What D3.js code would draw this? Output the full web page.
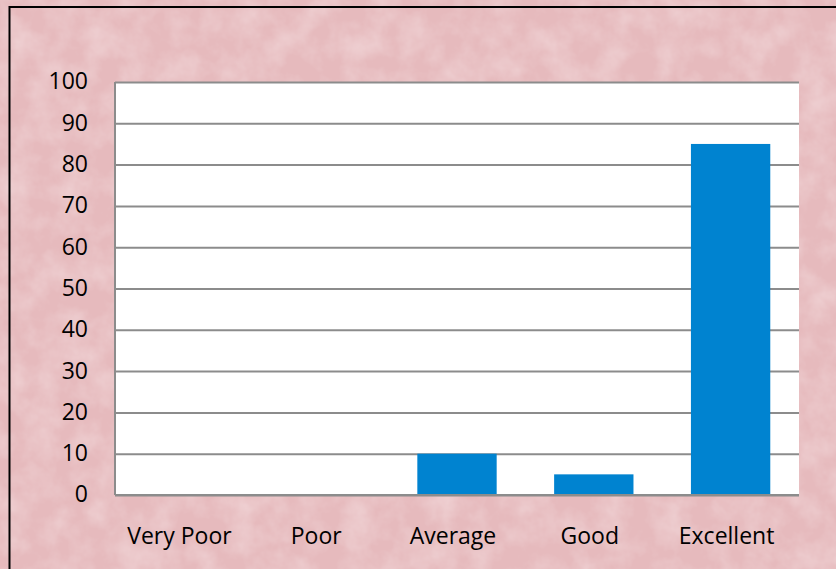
<!DOCTYPE html>
<html><head><meta charset="utf-8">
<script src="https://cdn.jsdelivr.net/npm/d3@7"></script>
<style>html,body{margin:0;padding:0;background:#fff;}svg{display:block;}</style>
</head><body>
<script>
const categories = ["Very Poor", "Poor", "Average", "Good", "Excellent"];
const values = [0, 0, 10, 5, 85];
const yTicks = [0, 10, 20, 30, 40, 50, 60, 70, 80, 90, 100];

const W = 836, H = 569;
const plot = {left: 115, right: 799, top: 82, bottom: 495};
const FONT = "'Open Sans', sans-serif";

const svg = d3.select("body").append("svg").attr("width", W).attr("height", H);
const defs = svg.append("defs");
const f = defs.append("filter").attr("id", "tex").attr("x", 0).attr("y", 0).attr("width", "100%").attr("height", "100%");
f.append("feTurbulence").attr("type", "fractalNoise").attr("baseFrequency", "0.035").attr("numOctaves", 4).attr("seed", 3).attr("result", "n");
f.append("feColorMatrix").attr("in", "n").attr("type", "matrix")
  .attr("values", "0 0 0 0 0.94  0 0 0 0 0.81  0 0 0 0 0.82  0.8 0 0 0 -0.28").attr("result", "c");

svg.append("rect").attr("width", W).attr("height", H).attr("fill", "#e6babd");
svg.append("rect").attr("width", W).attr("height", H).attr("filter", "url(#tex)");

// frame lines
svg.append("line").attr("x1", 9.5).attr("x2", 9.5).attr("y1", 6).attr("y2", H).attr("stroke", "#000").attr("stroke-width", 2);
svg.append("line").attr("x1", 9).attr("x2", W).attr("y1", 7).attr("y2", 7).attr("stroke", "#000").attr("stroke-width", 2);

const x = d3.scaleBand().domain(categories).range([plot.left, plot.right]).paddingInner(0.42).paddingOuter(0.21);
const y = d3.scaleLinear().domain([0, 100]).range([plot.bottom, plot.top]);

svg.append("rect").attr("x", plot.left).attr("y", plot.top).attr("width", plot.right - plot.left).attr("height", plot.bottom - plot.top).attr("fill", "#fff");

const grid = svg.append("g").attr("transform", `translate(${plot.left},0)`)
  .call(d3.axisLeft(y).tickValues(yTicks).tickSize(-(plot.right - plot.left)).tickFormat(""));
grid.select(".domain").remove();
grid.selectAll("line").attr("stroke", "#8c8c8c").attr("stroke-width", 2);

svg.append("g").selectAll("rect").data(values).join("rect")
  .attr("x", (d, i) => x(categories[i]))
  .attr("y", d => y(d))
  .attr("width", x.bandwidth())
  .attr("height", d => y(0) - y(d))
  .attr("fill", "#0083d0");

svg.append("line").attr("x1", plot.left).attr("x2", plot.left).attr("y1", plot.top).attr("y2", plot.bottom).attr("stroke", "#8c8c8c").attr("stroke-width", 2);
svg.append("line").attr("x1", plot.left).attr("x2", plot.right).attr("y1", plot.bottom).attr("y2", plot.bottom).attr("stroke", "#8c8c8c").attr("stroke-width", 2);

const yAxis = svg.append("g").attr("transform", `translate(${plot.left - 27},0)`)
  .call(d3.axisLeft(y).tickValues(yTicks).tickSize(0).tickPadding(0));
yAxis.select(".domain").remove();
yAxis.selectAll("text").attr("font-family", FONT).attr("font-size", 23).attr("fill", "#000").attr("text-anchor", "end").attr("dy", "0.3em");

const xAxis = svg.append("g").attr("transform", `translate(-4,${plot.bottom})`)
  .call(d3.axisBottom(x).tickSize(0).tickPadding(33));
xAxis.select(".domain").remove();
xAxis.selectAll("text").attr("font-family", FONT).attr("font-size", 23).attr("fill", "#000");
</script>
</body></html>
